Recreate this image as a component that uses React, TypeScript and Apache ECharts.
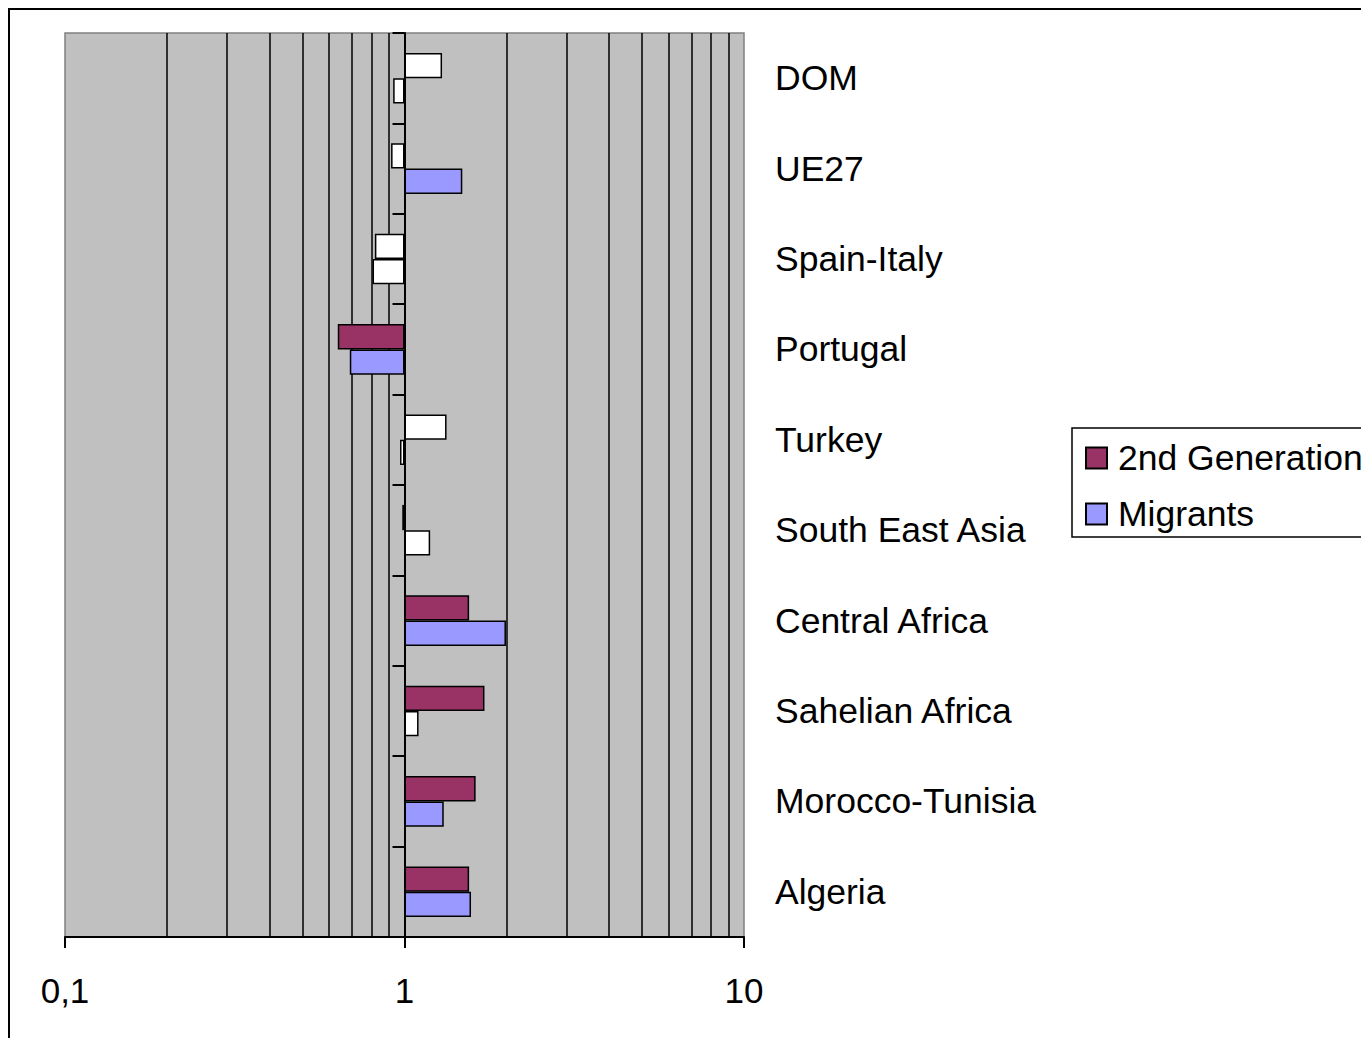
import React, { useEffect, useRef } from "react";
import * as echarts from "echarts";

const categories = [
  "Algeria",
  "Morocco-Tunisia",
  "Sahelian Africa",
  "Central Africa",
  "South East Asia",
  "Turkey",
  "Portugal",
  "Spain-Italy",
  "UE27",
  "DOM",
];

const secondGenValues = [1.55, 1.62, 1.72, 1.55, 0.985, 1.33, 0.636, 0.818, 0.913, 1.29];
const secondGenSignificant = [true, true, true, true, false, false, true, false, false, false];

const migrantValues = [1.57, 1.305, 1.1, 1.99, 1.19, 0.97, 0.69, 0.805, 1.48, 0.926];
const migrantSignificant = [true, true, false, true, false, false, true, false, true, false];

const gridValues = [0.2, 0.3, 0.4, 0.5, 0.6, 0.7, 0.8, 0.9, 2, 3, 4, 5, 6, 7, 8, 9];

const SERIES_NAMES = ["2nd Generation", "Migrants"];
const SERIES_COLORS = ["#993366", "#9999FF"];
const FONT = "'Liberation Sans', Arial, sans-serif";

function buildData(values: number[], significant: boolean[], color: string) {
  return values.map((v, i) => ({
    value: v,
    itemStyle: { color: significant[i] ? color : "#FFFFFF" },
  }));
}

export default function App() {
  const ref = useRef<HTMLDivElement>(null);

  useEffect(() => {
    document.documentElement.style.overflow = "hidden";
    document.body.style.overflow = "hidden";
    if (!ref.current) return;
    const chart = echarts.init(ref.current, null, { renderer: "svg" });
    chart.setOption({
      animation: false,
      backgroundColor: "#FFFFFF",
      textStyle: { fontFamily: FONT },
      grid: {
        left: 55,
        top: 23,
        width: 679,
        height: 904,
        show: true,
        backgroundColor: "#C0C0C0",
        borderColor: "#808080",
        borderWidth: 1.5,
      },
      legend: {
        orient: "vertical",
        left: 1062,
        top: 418,
        padding: [12, 120, 5, 13],
        borderColor: "#000000",
        borderWidth: 1.5,
        itemWidth: 21,
        itemHeight: 21,
        itemGap: 20,
        icon: "rect",
        data: SERIES_NAMES,
        textStyle: {
          fontSize: 35.5,
          color: "#000000",
          fontFamily: FONT,
          lineHeight: 36,
          padding: [0, 0, 0, 6],
        },
      },
      xAxis: {
        type: "log",
        logBase: 10,
        min: 0.1,
        max: 10,
        axisLine: { show: true, lineStyle: { color: "#000000", width: 2 } },
        axisTick: { show: true, length: 11, inside: false, lineStyle: { color: "#000000", width: 2 } },
        splitLine: { show: false },
        minorTick: { show: false },
        axisLabel: {
          fontSize: 35,
          color: "#000000",
          fontFamily: FONT,
          margin: 36,
          formatter: (v: number) => String(Number(v.toPrecision(6))).replace(".", ","),
        },
      },
      yAxis: [
        {
          type: "category",
          data: categories,
          position: "right",
          axisLine: { show: false },
          axisTick: { show: false },
          splitLine: { show: false },
          axisLabel: {
            fontSize: 35.5,
            color: "#000000",
            fontFamily: FONT,
            margin: 31,
            align: "left",
          },
        },
        {
          type: "category",
          data: categories,
          position: "left",
          offset: -339.5,
          axisLine: { show: true, lineStyle: { color: "#000000", width: 2 } },
          axisTick: { show: true, length: 12, inside: false, alignWithLabel: false, lineStyle: { color: "#000000", width: 2 } },
          axisLabel: { show: false },
          splitLine: { show: false },
        },
      ],
      series: [
        {
          name: SERIES_NAMES[0],
          type: "bar",
          yAxisIndex: 0,
          barWidth: 25.3,
          barGap: "0%",
          itemStyle: { color: SERIES_COLORS[0], borderColor: "#000000", borderWidth: 1.5 },
          data: buildData(secondGenValues, secondGenSignificant, SERIES_COLORS[0]),
          markLine: {
            silent: true,
            z: 1,
            symbol: ["none", "none"],
            label: { show: false },
            lineStyle: { color: "#000000", width: 1.5, type: "solid" },
            data: gridValues.map((v) => ({ xAxis: v })),
          },
        },
        {
          name: SERIES_NAMES[1],
          type: "bar",
          yAxisIndex: 0,
          barWidth: 25.3,
          barGap: "0%",
          itemStyle: { color: SERIES_COLORS[1], borderColor: "#000000", borderWidth: 1.5 },
          data: buildData(migrantValues, migrantSignificant, SERIES_COLORS[1]),
        },
      ],
    });
    return () => chart.dispose();
  }, []);

  return (
    <div
      style={{
        width: 1361,
        height: 1030,
        borderTop: "2px solid #000000",
        borderLeft: "2px solid #000000",
        boxSizing: "border-box",
        overflow: "hidden",
        background: "#FFFFFF",
      }}
    >
      <div ref={ref} style={{ width: 1500, height: 1028 }} />
    </div>
  );
}
